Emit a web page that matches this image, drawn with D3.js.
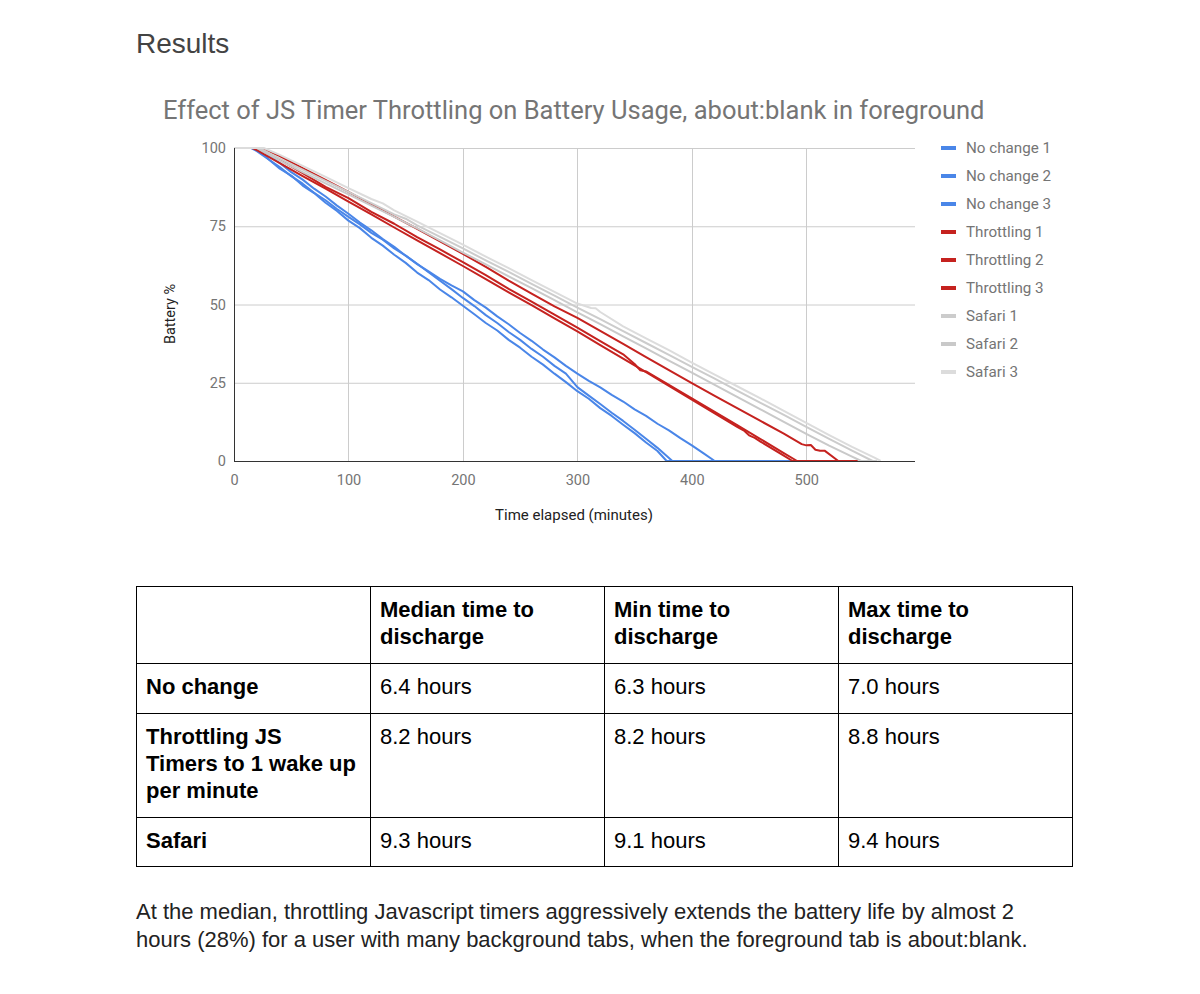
<!DOCTYPE html>
<html>
<head>
<meta charset="utf-8">
<script src="https://cdn.jsdelivr.net/npm/d3@7"></script>
<style>
  body { margin: 0; background: #fff; }
  svg text { font-family: Roboto, "Noto Sans", sans-serif; }
  svg .doc, svg .doc text { font-family: "Liberation Sans", Arial, sans-serif; }
</style>
</head>
<body>
<svg id="page" width="1200" height="994"></svg>
<script>
// ---- chart data (minutes elapsed, battery %) ----
const seriesNames = ["No change 1", "No change 2", "No change 3",
                     "Throttling 1", "Throttling 2", "Throttling 3",
                     "Safari 1", "Safari 2", "Safari 3"];
const seriesColors = ["#4a86e8", "#4a86e8", "#4a86e8",
                      "#c5221f", "#c5221f", "#c5221f",
                      "#cccccc", "#c9c9c9", "#dcdcdc"];

const noChange1 = [[0,100],[18,100],[25,98.2],[30,96.5],[40,93.4],[50,91.2],[60,88.0],[70,85.6],[80,82.5],[90,79.9],
  [100,76.8],[110,74.4],[120,71.3],[130,68.8],[140,65.9],[150,63.3],[160,60.2],[170,57.8],[180,54.8],[190,52.3],
  [200,49.6],[210,46.9],[220,44.1],[230,41.7],[240,38.7],[250,36.2],[260,33.3],[270,30.8],[280,27.9],[290,25.2],
  [300,22.3],[310,19.9],[320,16.9],[330,14.4],[340,11.6],[350,8.9],[360,5.9],[370,3.2],[378,0],[490,0]];
const noChange2 = [[0,100],[22,100],[30,97.8],[40,95.2],[50,92.3],[60,89.9],[70,87.0],[80,84.5],[90,81.6],
  [100,79.0],[110,76.2],[120,73.7],[130,70.9],[140,68.4],[150,65.6],[160,63.0],[170,60.3],[180,57.6],[190,54.9],
  [200,52.1],[210,49.5],[220,46.6],[230,44.1],[240,41.2],[250,38.7],[260,35.8],[270,33.3],[280,30.4],[290,27.9],
  [300,23.6],[310,20.9],[320,18.2],[330,15.4],[340,12.8],[350,10.0],[360,7.1],[370,4.2],[383,0],[490,0]];
const noChange3 = [[0,100],[15,100],[20,99.0],[30,96.4],[40,93.9],[50,91.0],[60,88.6],[70,85.7],[80,83.3],[90,80.5],
  [100,78.0],[110,75.6],[120,72.9],[130,70.7],[140,67.9],[150,65.6],[160,62.9],[170,60.6],[180,58.2],[190,56.1],
  [200,54.2],[210,51.4],[220,49.0],[230,46.2],[240,43.7],[250,40.9],[260,38.4],[270,35.6],[280,33.1],[290,30.4],
  [300,27.9],[310,25.6],[320,23.5],[330,21.1],[340,19.0],[350,16.5],[360,14.4],[370,11.9],[380,9.8],[390,7.3],
  [400,5.0],[410,2.5],[420,0],[490,0]];

const throttling1 = [[0,100],[16,100],[20,99.3],[40,95.2],[60,91.0],[80,87.0],[100,82.9],[120,78.8],[140,74.6],
  [160,70.5],[180,66.4],[200,62.3],[220,58.1],[240,53.9],[260,49.8],[280,45.6],[300,41.4],[320,37.0],[340,32.7],
  [360,28.4],[380,24.0],[400,19.6],[420,15.2],[440,10.8],[446,9.6],[450,8.2],[455,7.4],[460,6.2],[480,1.8],
  [488,0],[545,0]];
const throttling2 = [[0,100],[20,100],[40,96.2],[60,92.0],[80,87.6],[100,84.0],[120,79.6],[140,75.8],[160,71.5],
  [180,67.6],[200,63.5],[220,59.4],[240,55.0],[260,50.9],[280,46.8],[300,42.6],[320,38.3],[340,34.1],[350,31.0],
  [355,29.0],[360,28.6],[380,24.3],[400,20.0],[420,15.7],[440,11.4],[460,7.0],[480,2.6],[492,0],[545,0]];
const throttling3 = [[0,100],[24,100],[40,97.4],[60,93.6],[80,89.8],[100,86.0],[120,82.0],[140,78.1],[160,74.2],
  [180,70.2],[200,66.2],[220,62.0],[240,57.6],[260,53.5],[280,49.4],[300,45.7],[320,41.6],[340,37.4],[360,33.2],
  [380,29.0],[400,24.9],[420,20.8],[440,16.8],[460,12.8],[480,8.8],[496,5.4],[500,5.0],[504,5.1],[508,3.6],
  [512,3.3],[516,3.3],[528,0],[545,0]];

const safari1 = [[0,100],[22,100],[40,96.6],[60,93.1],[80,89.5],[100,86.0],[120,82.4],[140,78.8],[150,77.4],
  [160,75.3],[180,71.6],[200,67.9],[220,64.1],[240,60.4],[260,56.6],[280,52.8],[300,49.0],[320,45.3],[340,41.5],
  [360,37.7],[380,33.9],[400,30.1],[420,26.3],[440,22.4],[460,18.6],[480,14.8],[500,10.9],[520,7.1],[540,3.3],
  [558,0],[562,0]];
const safari2 = [[0,100],[20,100],[40,96.0],[60,92.3],[80,88.7],[100,85.2],[120,81.6],[140,78.0],[160,74.3],
  [180,70.5],[200,66.6],[220,62.8],[240,59.0],[260,55.2],[280,51.4],[300,47.5],[320,43.7],[340,39.8],[360,36.0],
  [380,32.1],[400,28.2],[420,24.3],[440,20.4],[460,16.5],[480,12.6],[500,8.7],[520,4.9],[540,1.4],[548,0],[560,0]];
const safari3 = [[0,100],[26,100],[40,97.8],[60,94.3],[80,90.8],[100,87.2],[120,83.7],[130,82.3],[140,80.1],
  [160,76.5],[180,72.8],[200,69.1],[220,65.3],[240,61.6],[260,57.8],[280,54.0],[300,50.3],[312,48.9],[316,48.8],
  [320,47.6],[340,43.0],[360,39.2],[380,35.4],[400,31.4],[420,27.6],[440,23.8],[460,20.0],[480,16.1],[500,12.2],
  [520,8.3],[540,4.5],[560,1.0],[565,0]];

const seriesData = [noChange1, noChange2, noChange3,
                    throttling1, throttling2, throttling3,
                    safari1, safari2, safari3];

const xTicks = [0, 100, 200, 300, 400, 500];
const yTicks = [0, 25, 50, 75, 100];

// ---- table data ----
const tableHeader = [[], ["Median time to", "discharge"], ["Min time to", "discharge"], ["Max time to", "discharge"]];
const tableRows = [
  [["No change"], ["6.4 hours"], ["6.3 hours"], ["7.0 hours"]],
  [["Throttling JS", "Timers to 1 wake up", "per minute"], ["8.2 hours"], ["8.2 hours"], ["8.8 hours"]],
  [["Safari"], ["9.3 hours"], ["9.1 hours"], ["9.4 hours"]]
];
const paragraph = [
  "At the median, throttling Javascript timers aggressively extends the battery life by almost 2",
  "hours (28%) for a user with many background tabs, when the foreground tab is about:blank."
];

const svg = d3.select("#page");

// heading
svg.append("text")
    .attr("class", "doc")
    .attr("x", 136)
    .attr("y", 53)
    .attr("font-size", 28)
    .attr("fill", "#434343")
    .text("Results");

// ---- chart ----
const plot = { left: 234, right: 915, top: 148, bottom: 461 };

const x = d3.scaleLinear().domain([0, 595]).range([plot.left, plot.right]);
const y = d3.scaleLinear().domain([0, 100]).range([plot.bottom, plot.top]);

svg.append("text")
    .attr("x", 163)
    .attr("y", 119)
    .attr("font-size", 25.5)
    .attr("fill", "#757575")
    .text("Effect of JS Timer Throttling on Battery Usage, about:blank in foreground");

// grid
svg.append("g")
    .selectAll("line")
    .data(yTicks.filter(d => d > 0))
    .join("line")
    .attr("x1", plot.left).attr("x2", plot.right)
    .attr("y1", d => y(d) + 0.5).attr("y2", d => y(d) + 0.5)
    .attr("stroke", "#cccccc");

svg.append("g")
    .selectAll("line")
    .data(xTicks.filter(d => d > 0))
    .join("line")
    .attr("x1", d => Math.round(x(d)) + 0.5).attr("x2", d => Math.round(x(d)) + 0.5)
    .attr("y1", plot.top).attr("y2", plot.bottom)
    .attr("stroke", "#cccccc");

// axes via d3 axis generators, styled to look like the original
const xAxis = svg.append("g")
    .attr("transform", `translate(0,${plot.bottom})`)
    .call(d3.axisBottom(x).tickValues(xTicks).tickSize(0).tickPadding(14));
const yAxis = svg.append("g")
    .attr("transform", `translate(${plot.left},0)`)
    .call(d3.axisLeft(y).tickValues(yTicks).tickSize(0).tickPadding(8));

[xAxis, yAxis].forEach(a => {
    a.select(".domain").remove();
    a.selectAll("text")
        .attr("font-family", "Roboto, sans-serif")
        .attr("font-size", 14.5)
        .attr("fill", "#757575");
});

// series lines
const line = d3.line()
    .x(d => x(d[0]))
    .y(d => y(d[1]));

svg.append("g")
    .selectAll("path")
    .data(seriesData)
    .join("path")
    .attr("d", line)
    .attr("fill", "none")
    .attr("stroke", (d, i) => seriesColors[i])
    .attr("stroke-width", 2)
    .attr("stroke-linejoin", "round");

// axis lines on top
svg.append("line")
    .attr("x1", plot.left).attr("x2", plot.right)
    .attr("y1", plot.bottom + 0.5).attr("y2", plot.bottom + 0.5)
    .attr("stroke", "#333333");
svg.append("line")
    .attr("x1", plot.left + 0.5).attr("x2", plot.left + 0.5)
    .attr("y1", plot.top).attr("y2", plot.bottom)
    .attr("stroke", "#333333");

// axis titles
svg.append("text")
    .attr("x", 574)
    .attr("y", 520)
    .attr("text-anchor", "middle")
    .attr("font-size", 15)
    .attr("fill", "#222222")
    .text("Time elapsed (minutes)");

svg.append("text")
    .attr("transform", "translate(175,314) rotate(-90)")
    .attr("text-anchor", "middle")
    .attr("font-size", 14.5)
    .attr("fill", "#222222")
    .text("Battery %");

// legend
const legend = svg.append("g")
    .selectAll("g")
    .data(seriesNames)
    .join("g")
    .attr("transform", (d, i) => `translate(941,${148 + i * 28})`);

legend.append("rect")
    .attr("x", 0).attr("y", -2)
    .attr("width", 15).attr("height", 4)
    .attr("fill", (d, i) => seriesColors[i]);

legend.append("text")
    .attr("x", 25)
    .attr("y", 5)
    .attr("font-size", 15.2)
    .attr("fill", "#757575")
    .text(d => d);

// ---- table ----
const colEdges = [136, 370, 604, 838, 1072];
const rowEdges = [586, 663, 713, 817, 866];
const table = svg.append("g").attr("class", "doc");

table.selectAll("line.h")
    .data(rowEdges)
    .join("line")
    .attr("class", "h")
    .attr("x1", colEdges[0]).attr("x2", colEdges[colEdges.length - 1] + 1)
    .attr("y1", d => d + 0.5).attr("y2", d => d + 0.5)
    .attr("stroke", "#000");

table.selectAll("line.v")
    .data(colEdges)
    .join("line")
    .attr("class", "v")
    .attr("x1", d => d + 0.5).attr("x2", d => d + 0.5)
    .attr("y1", rowEdges[0]).attr("y2", rowEdges[rowEdges.length - 1] + 1)
    .attr("stroke", "#000");

const allRows = [tableHeader].concat(tableRows);
allRows.forEach((row, r) => {
    row.forEach((cell, c) => {
        const bold = r === 0 || c === 0;
        const t = table.append("text")
            .attr("x", colEdges[c] + 10)
            .attr("y", rowEdges[r] + 31)
            .attr("font-size", 22)
            .attr("font-weight", bold ? "bold" : "normal")
            .attr("fill", "#000");
        t.selectAll("tspan")
            .data(cell)
            .join("tspan")
            .attr("x", colEdges[c] + 10)
            .attr("dy", (d, i) => i === 0 ? 0 : 27)
            .text(d => d);
    });
});

// closing paragraph
svg.append("g")
    .attr("class", "doc")
    .selectAll("text")
    .data(paragraph)
    .join("text")
    .attr("x", 136)
    .attr("y", (d, i) => 919 + i * 28)
    .attr("font-size", 22)
    .attr("fill", "#222222")
    .text(d => d);
</script>
</body>
</html>
